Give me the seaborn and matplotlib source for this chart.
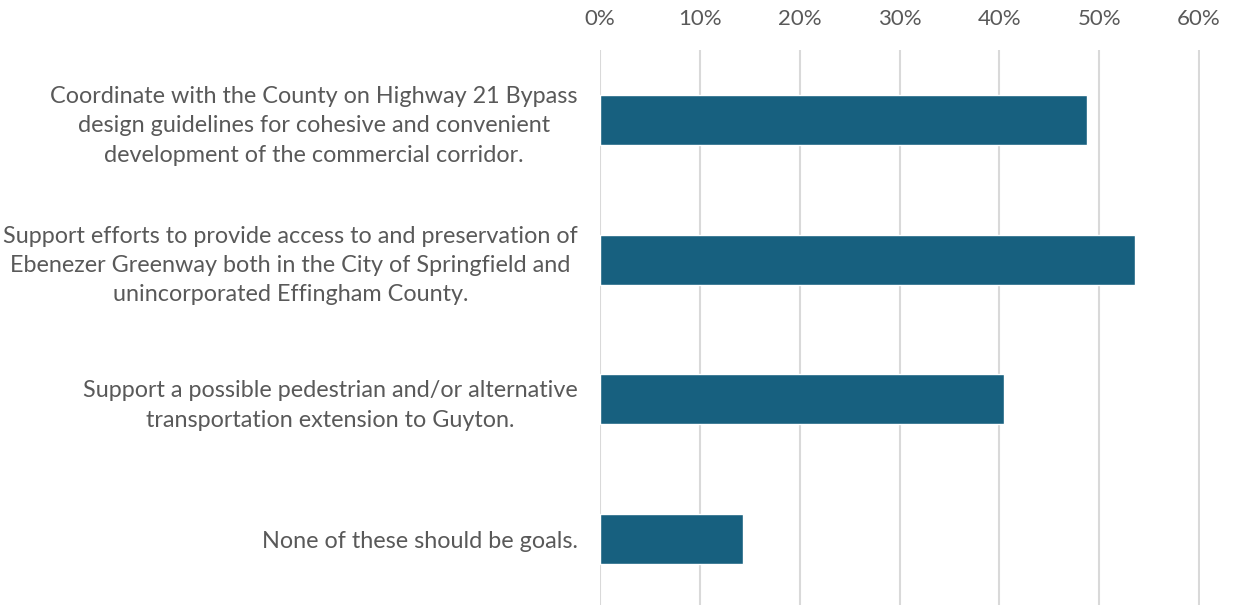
import matplotlib
matplotlib.use("Agg")
import matplotlib.pyplot as plt
import seaborn as sns
import pandas as pd
from matplotlib.ticker import PercentFormatter

goals = [
    "Coordinate with the County on Highway 21 Bypass\ndesign guidelines for cohesive and convenient\ndevelopment of the commercial corridor.",
    "Support efforts to provide access to and preservation of\nEbenezer Greenway both in the City of Springfield and\nunincorporated Effingham County.",
    "Support a possible pedestrian and/or alternative\ntransportation extension to Guyton.",
    "None of these should be goals.",
]
share = [48.8, 53.6, 40.5, 14.3]
x_ticks = [0, 10, 20, 30, 40, 50, 60]

df = pd.DataFrame({"goal": goals, "share": share})

sns.set_theme(style="white")
plt.rcParams["font.family"] = ["Lato", "DejaVu Sans"]

fig = plt.figure(figsize=(12.34, 6.05), dpi=100)
ax = fig.add_axes([600 / 1234, (605 - 609) / 605, 600 / 1234, 559 / 605])

sns.barplot(data=df, y="goal", x="share", orient="h", color="#17607F",
            width=0.357, saturation=1, ax=ax, zorder=3)

ax.set_xlim(0, 60.1)
ax.set_xticks(x_ticks)
ax.xaxis.set_major_formatter(PercentFormatter(decimals=0))
ax.xaxis.tick_top()
ax.grid(axis="x", color="#D9D9D9", linewidth=1.5, zorder=0)
ax.grid(axis="y", visible=False)
for s in ax.spines.values():
    s.set_visible(False)
ax.set_xlabel("")
ax.set_ylabel("")
ax.tick_params(axis="x", length=0, pad=15, labelsize=16, labelcolor="#595959")
ax.tick_params(axis="y", length=0, pad=16, labelsize=16.8, labelcolor="#595959")
for lbl in ax.get_yticklabels():
    lbl.set_multialignment("center")
    lbl.set_linespacing(1.48)

fig.savefig("out.png", dpi=100)
